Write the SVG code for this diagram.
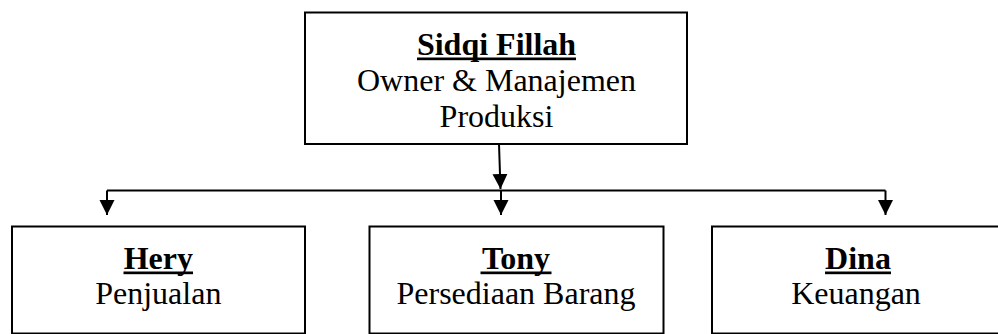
<svg xmlns="http://www.w3.org/2000/svg" width="998" height="334" viewBox="0 0 998 334">
<defs>
<style>
.box{fill:#fff;stroke:#000;stroke-width:2}
.t{font-family:"Liberation Serif","Times New Roman",serif;font-size:32px;fill:#000;text-anchor:middle}
.b{font-weight:bold}
.ul{fill:#000}
.c{fill:none;stroke:#000;stroke-width:2}
</style>
<marker id="ah" markerUnits="userSpaceOnUse" markerWidth="16" markerHeight="16" refX="15" refY="7.5" orient="auto" viewBox="0 0 16 16">
<path d="M0,0 L15,7.5 L0,15 z" fill="#000"/>
</marker>
</defs>
<rect width="998" height="334" fill="#fff"/>
<g id="connectors">
<path class="c" d="M499,144 L500.5,189" marker-end="url(#ah)"/>
<path class="c" d="M107,190.5 H885.5"/>
<path class="c" d="M107,190.5 V215" marker-end="url(#ah)"/>
<path class="c" d="M501,190.5 V215" marker-end="url(#ah)"/>
<path class="c" d="M885.5,190.5 V215" marker-end="url(#ah)"/>
</g>
<g id="sidqi">
<rect class="box" x="305" y="12.5" width="382" height="131.5"/>
<text class="t b" x="496.5" y="55">Sidqi Fillah</text>
<rect class="ul" x="417" y="57.5" width="159" height="2.7"/>
<text class="t" x="496.5" y="91">Owner &amp; Manajemen</text>
<text class="t" x="496.5" y="127">Produksi</text>
</g>
<g id="hery">
<rect class="box" x="12" y="226.5" width="293" height="107"/>
<text class="t b" x="158.3" y="269">Hery</text>
<rect class="ul" x="123.5" y="271.5" width="69.5" height="2.7"/>
<text class="t" x="158.3" y="304">Penjualan</text>
</g>
<g id="tony">
<rect class="box" x="369.5" y="226.5" width="294" height="107"/>
<text class="t b" x="516" y="269">Tony</text>
<rect class="ul" x="480.5" y="271.5" width="71" height="2.7"/>
<text class="t" x="516" y="304">Persediaan Barang</text>
</g>
<g id="dina">
<rect class="box" x="712" y="226.5" width="294" height="107"/>
<text class="t b" x="858" y="269">Dina</text>
<rect class="ul" x="825" y="271.5" width="66" height="2.7"/>
<text class="t" x="856" y="304">Keuangan</text>
</g>
</svg>
